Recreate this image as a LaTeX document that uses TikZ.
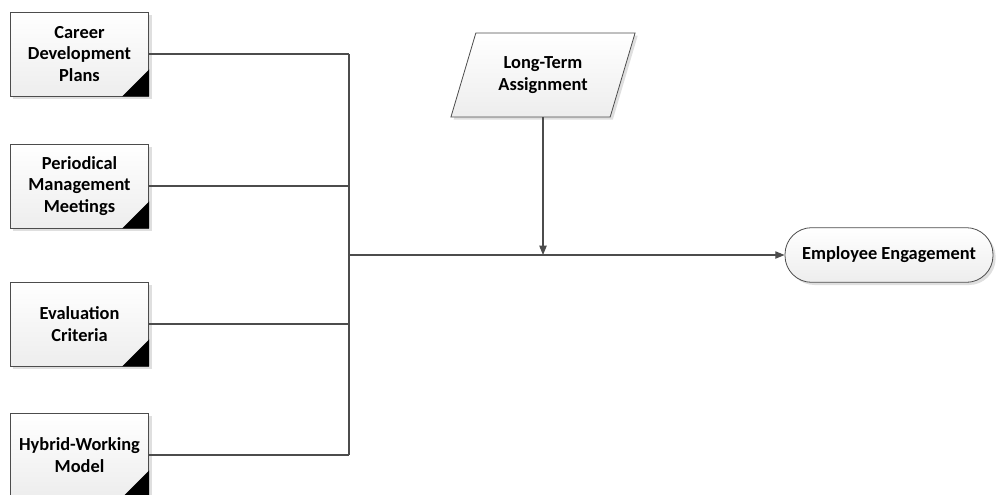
\documentclass[tikz,border=0pt]{standalone}
\usepackage{fontspec}
\setmainfont{Carlito}
\usetikzlibrary{shapes.geometric,arrows.meta,shadows}

\tikzset{
  boxfont/.style={font=\fontsize{13.8}{16.2}\selectfont\bfseries},
  factor/.style={boxfont, draw=black!70, line width=0.6pt, top color=white, bottom color=gray!14,
    minimum width=104pt, minimum height=63pt, align=center, inner sep=2pt,
    drop shadow={shadow xshift=2pt, shadow yshift=-2pt, opacity=0.25}},
  inputbox/.style={boxfont, shape=trapezium, trapezium left angle=65.7, trapezium right angle=114.3,
    trapezium stretches=true, minimum width=139.5pt, minimum height=63pt, inner sep=0pt,
    draw=black!70, line width=0.6pt, top color=white, bottom color=gray!14, align=center,
    drop shadow={shadow xshift=2pt, shadow yshift=-2pt, opacity=0.25}},
  terminal/.style={boxfont, draw=black!70, line width=0.6pt, top color=white, bottom color=gray!14,
    rounded corners=20pt, minimum width=156pt, minimum height=41pt,
    drop shadow={shadow xshift=2pt, shadow yshift=-2pt, opacity=0.25}},
  link/.style={draw=black!70, line width=0.9pt},
  tip/.style={-{Triangle[length=7pt,width=5.5pt]}}
}

\begin{document}
\begin{tikzpicture}[x=0.75pt,y=-0.75pt]
  \useasboundingbox (0,0) rectangle (996,494);
  \node[factor] (career) at (79.5,54) {Career\\Development\\Plans};
  \node[factor] (meetings) at (79.5,186) {Periodical\\Management\\Meetings};
  \node[factor] (criteria) at (79.5,324) {Evaluation\\Criteria};
  \node[factor] (hybrid) at (79.5,455) {Hybrid-Working\\Model};
  \node[inputbox] (assign) at (543,75) {Long-Term\\Assignment};
  \node[terminal] (engage) at (889,255) {Employee Engagement};
  \foreach \n in {career,meetings,criteria,hybrid}
    \fill (\n.south east) -- ++(-27,0) -- ++(27,-27) -- cycle;
  \coordinate (bus) at (349,255);
  \foreach \n in {career,meetings,criteria,hybrid}
    \draw[link] (\n.east) -- (\n.east -| bus);
  \draw[link] (career.east -| bus) -- (hybrid.east -| bus);
  \draw[link,tip] (bus) -- (engage.west);
  \draw[link,tip] (assign.south) -- (assign.south |- bus);
\end{tikzpicture}
\end{document}
